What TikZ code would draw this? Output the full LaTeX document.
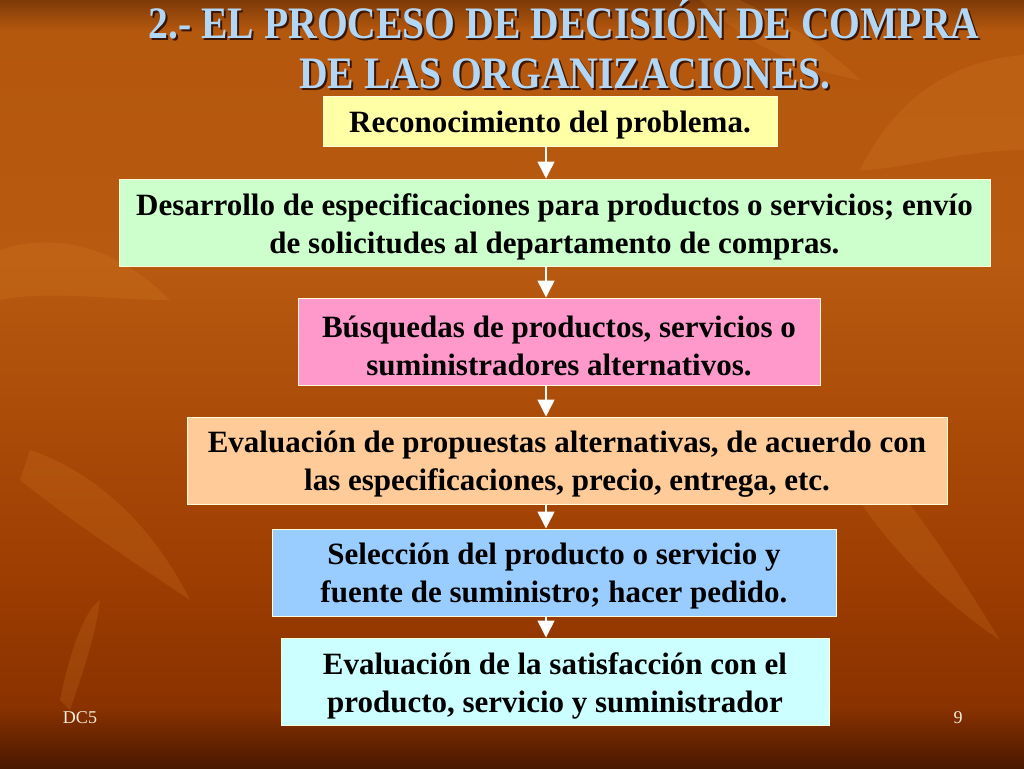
\documentclass[tikz,border=0pt]{standalone}
\usepackage{fontspec}
\setmainfont{Liberation Serif}
\usetikzlibrary{arrows.meta}
\definecolor{bgA}{HTML}{4A1800}
\definecolor{bgB}{HTML}{8A3200}
\definecolor{bgL}{HTML}{9E3E02}
\definecolor{bgC}{HTML}{B85A10}
\definecolor{bgD}{HTML}{B4580E}
\definecolor{bgE}{HTML}{7E3A08}
\definecolor{leaf}{HTML}{E08A30}
\definecolor{titleblue}{HTML}{B2D6F6}
\definecolor{titleshadow}{HTML}{3A1600}
\definecolor{cyellow}{HTML}{FFFFA6}
\definecolor{cgreen}{HTML}{CCFFCC}
\definecolor{cpink}{HTML}{FF99CC}
\definecolor{cpeach}{HTML}{FFCC99}
\definecolor{cblue}{HTML}{99CCFF}
\definecolor{ccyan}{HTML}{CCFFFF}
\definecolor{foot}{HTML}{F4ECDC}
\pgfdeclareverticalshading{bgshade}{100bp}{color(0bp)=(bgA); color(25bp)=(bgA); color(29bp)=(bgB); color(38bp)=(bgL); color(58bp)=(bgC); color(73bp)=(bgD); color(75bp)=(bgE); color(100bp)=(bgE)}
\tikzset{
  stepbox/.style={draw=white!85!yellow, line width=1pt, inner sep=0pt},
  boxtext/.style={inner sep=0pt, align=center, yshift=-4pt,
    font=\bfseries\fontsize{31}{38}\selectfont, text=black},
  flowarrow/.style={draw=white, line width=1.5pt, -{Triangle[width=17pt,length=17pt]}},
  titletext/.style={font=\bfseries\fontsize{45}{52}\selectfont},
  foottext/.style={font=\fontsize{18}{21}\selectfont, text=foot},
  leafshape/.style={fill=leaf, opacity=0.18}
}
\begin{document}
\begin{tikzpicture}[x=1pt,y=-1pt]
\useasboundingbox (0,0) rectangle (1024,768);
\shade[shading=bgshade] (0,0) rectangle (1024,768);
% faint leaves in the background
\fill[leafshape] (860,170) .. controls (900,90) and (960,60) .. (1024,55) -- (1024,150) .. controls (960,150) and (900,170) .. cycle;
\fill[leafshape] (0,250) .. controls (60,230) and (120,250) .. (170,300) .. controls (110,300) and (50,290) .. (0,300) -- cycle;
\fill[leafshape] (30,450) .. controls (90,470) and (150,520) .. (190,600) .. controls (130,560) and (70,520) .. (20,480) -- cycle;
\fill[leafshape] (850,440) .. controls (900,480) and (950,560) .. (1000,640) .. controls (940,600) and (880,540) .. (840,470) -- cycle;
\fill[leafshape] (700,0) .. controls (740,40) and (800,70) .. (860,80) .. controls (820,40) and (770,15) .. (740,0) -- cycle;
\fill[leafshape] (60,700) .. controls (70,650) and (85,610) .. (100,600) .. controls (95,640) and (80,680) .. (70,710) -- cycle;
% title
\node[titletext, text=titleshadow] at (566,22) {\scalebox{0.88}[1]{2.- EL PROCESO DE DECISIÓN DE COMPRA}};
\node[titletext, text=titleblue] (t1) at (564,20) {\scalebox{0.88}[1]{2.- EL PROCESO DE DECISIÓN DE COMPRA}};
\node[titletext, text=titleshadow] at (567,76) {\scalebox{0.88}[1]{DE LAS ORGANIZACIONES.}};
\node[titletext, text=titleblue] (t2) at (565,74) {\scalebox{0.88}[1]{DE LAS ORGANIZACIONES.}};
% boxes
\node[stepbox, fill=cyellow, minimum width=454pt, minimum height=50pt] (b1) at (550,121) {};
\node[stepbox, fill=cgreen, minimum width=871pt, minimum height=87pt] (b2) at (554.5,222.5) {};
\node[stepbox, fill=cpink, minimum width=522pt, minimum height=87pt] (b3) at (559,341.5) {};
\node[stepbox, fill=cpeach, minimum width=760pt, minimum height=87pt] (b4) at (567,460.5) {};
\node[stepbox, fill=cblue, minimum width=564pt, minimum height=87pt] (b5) at (554,572.5) {};
\node[stepbox, fill=ccyan, minimum width=548pt, minimum height=87pt] (b6) at (555,681.5) {};
% box texts
\node[boxtext] (l1) at (b1.center) {Reconocimiento del problema.};
\node[boxtext] (l2) at (b2.center) {Desarrollo de especificaciones para productos o servicios; envío\\de solicitudes al departamento de compras.};
\node[boxtext] (l3) at (b3.center) {Búsquedas de productos, servicios o\\suministradores alternativos.};
\node[boxtext] (l4) at (b4.center) {Evaluación de propuestas alternativas, de acuerdo con\\las especificaciones, precio, entrega, etc.};
\node[boxtext] (l5) at (b5.center) {Selección del producto o servicio y\\fuente de suministro; hacer pedido.};
\node[boxtext] (l6) at (b6.center) {Evaluación de la satisfacción con el\\producto, servicio y suministrador};
% arrows
\coordinate (ax) at (546,0);
\draw[flowarrow] (b1.south -| ax) -- (b2.north -| ax);
\draw[flowarrow] (b2.south -| ax) -- (b3.north -| ax);
\draw[flowarrow] (b3.south -| ax) -- (b4.north -| ax);
\draw[flowarrow] (b4.south -| ax) -- (b5.north -| ax);
\draw[flowarrow] (b5.south -| ax) -- (b6.north -| ax);
% footer
\node[foottext] (f1) at (80,718) {DC5};
\node[foottext] (f2) at (958,718) {9};
\end{tikzpicture}
\end{document}
